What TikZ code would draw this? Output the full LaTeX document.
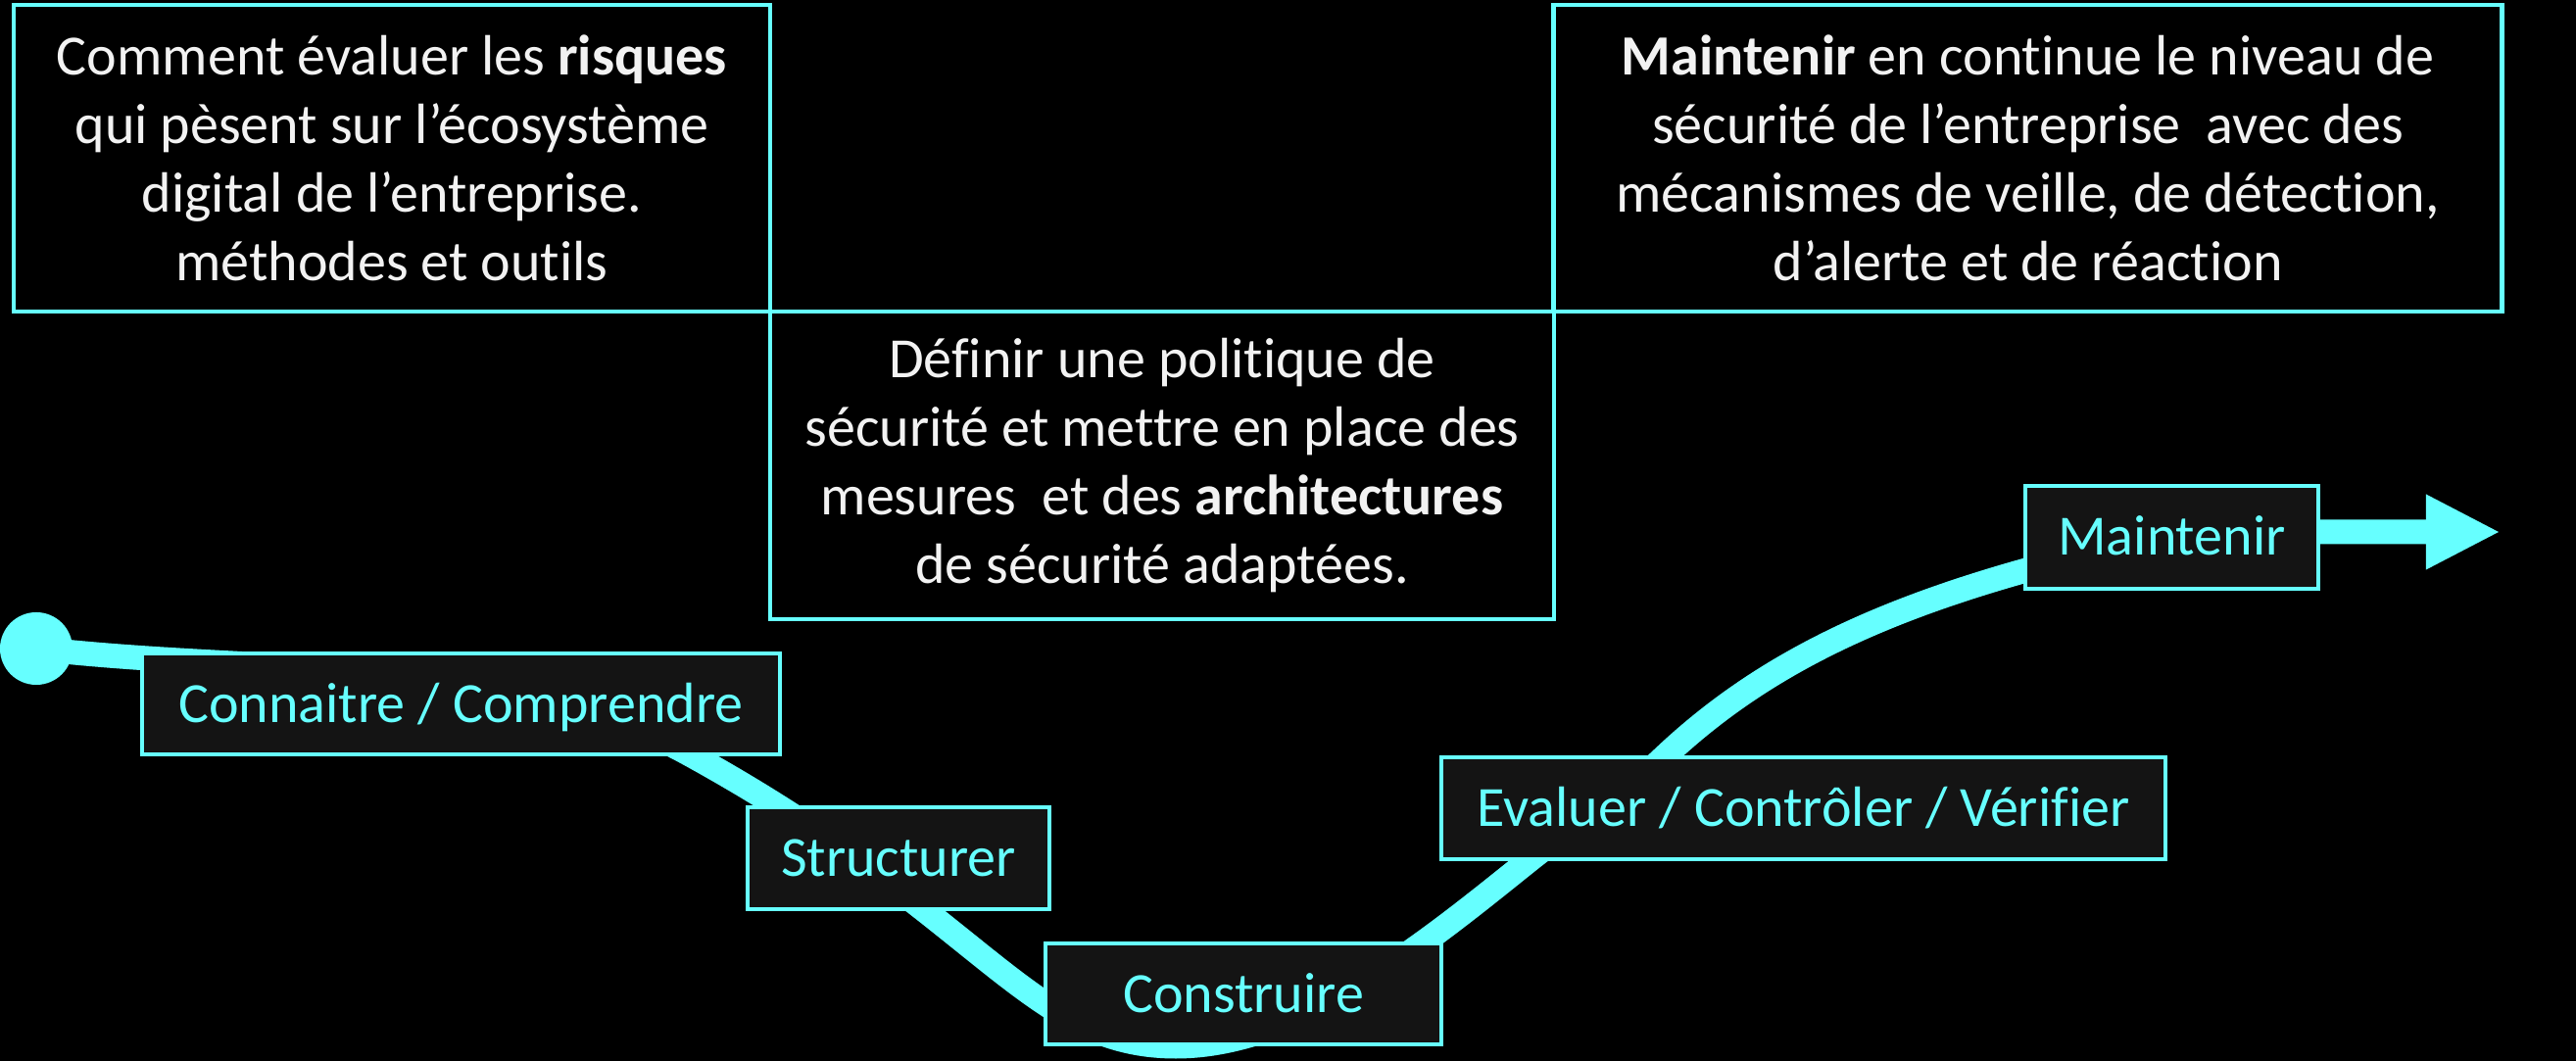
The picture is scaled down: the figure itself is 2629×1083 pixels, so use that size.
\documentclass[tikz,border=0pt]{standalone}
\usepackage{fontspec}
\setmainfont{Carlito}[Ligatures={NoCommon,NoContextual}]
\usetikzlibrary{arrows.meta}
\definecolor{cyanline}{HTML}{66FFFF}
\definecolor{labelfill}{HTML}{141414}
\definecolor{txt}{HTML}{F2F2F2}
\begin{document}
\begin{tikzpicture}[x=0.01cm,y=-0.01cm,
  infobox/.style={draw=cyanline, line width=0.045cm, text=txt, align=center,
    inner sep=0pt, font=\fontsize{16.5}{19.9}\selectfont},
  stagebox/.style={draw=cyanline, fill=labelfill, line width=0.045cm, text=cyanline,
    inner sep=0pt, text height=0.37cm, text depth=0cm, font=\fontsize{16.5}{19.9}\selectfont},
  flow/.style={draw=cyanline, line width=0.25cm, line cap=butt, line join=round},
  startdot/.style={circle, fill=cyanline, minimum size=0.74cm, inner sep=0pt}
]
\fill[black] (0,0) rectangle (2629,1083);
\useasboundingbox (0,0) rectangle (2629,1083);

% information boxes
\node[infobox, minimum width=7.72cm, minimum height=3.13cm] (risk) at (400,161.5)
  {Comment évaluer les \textbf{risques}\\qui pèsent sur l’écosystème\\digital de l’entreprise.\\méthodes et outils};
\node[infobox, minimum width=8.00cm, minimum height=3.14cm] (policy) at (1186,475)
  {Définir une politique de\\sécurité et mettre en place des\\mesures~ et des \textbf{architectures}\\de sécurité adaptées.};
\node[infobox, minimum width=9.67cm, minimum height=3.13cm] (maint) at (2069.5,161.5)
  {\textbf{Maintenir} en continue le niveau de\\sécurité de l’entreprise~ avec des\\mécanismes de veille, de détection,\\d’alerte et de réaction};

% flow curve
\node[startdot] (start) at (37,662) {};
\coordinate (tip) at (2550,543);
\draw[flow, -{Triangle[length=0.74cm, width=0.77cm, line width=0pt]}] (start.center)
  .. controls (280,690) and (514,665) .. (704,770)
  .. controls (1004,935) and (1050,1068) .. (1200,1068)
  .. controls (1330,1068) and (1462,957) .. (1562,877)
  .. controls (1607,841) and (1653,816) .. (1698,773)
  .. controls (1789,687) and (1900,629) .. (2068,582)
  .. controls (2148,560) and (2267,543) .. (2367,543)
  -- (tip);

% stage labels
\node[stagebox, minimum width=6.51cm, minimum height=1.03cm] (know) at (470.5,718.5) {Connaitre / Comprendre};
\node[stagebox, minimum width=3.08cm, minimum height=1.04cm] (struct) at (917,876) {Structurer};
\node[stagebox, minimum width=4.04cm, minimum height=1.03cm] (build) at (1269,1014.5) {Construire};
\node[stagebox, minimum width=7.39cm, minimum height=1.04cm] (eval) at (1840.5,825) {Evaluer / Contrôler / Vérifier};
\node[stagebox, minimum width=2.99cm, minimum height=1.05cm] (keep) at (2216.5,548.5) {Maintenir};
\end{tikzpicture}
\end{document}
